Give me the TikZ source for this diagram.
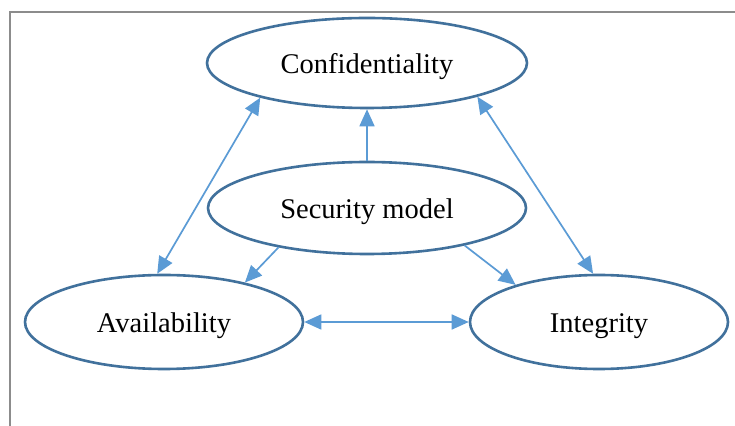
\documentclass[tikz,border=0pt]{standalone}
\usepackage{fontspec}
\setmainfont{Liberation Serif}
\usetikzlibrary{shapes.geometric,arrows.meta}
\definecolor{ringblue}{HTML}{41719C}
\definecolor{arrowblue}{HTML}{5B9BD5}
\definecolor{framegray}{HTML}{8C8C8C}
\tikzset{
  oval/.style={ellipse, draw=ringblue, line width=2.6pt, fill=white, inner sep=0pt,
    text height=28pt, text depth=6.2pt,
    font=\fontsize{28.5}{34}\selectfont},
  link/.style={draw=arrowblue, line width=1.7pt, -{Triangle[length=17pt,width=15pt]}},
  duallink/.style={draw=arrowblue, line width=1.7pt, {Triangle[length=17pt,width=15pt]}-{Triangle[length=17pt,width=15pt]}},
  frameline/.style={draw=framegray, line width=2pt}
}
\begin{document}
\begin{tikzpicture}[x=1pt,y=1pt]
\useasboundingbox (0,0) rectangle (735,425);
\fill[white] (0,0) rectangle (735,425);
\draw[frameline] (10,-2) -- (10,413) -- (737,413);
\node[oval, minimum width=320pt, minimum height=90pt] (conf) at (367,362) {Confidentiality};
\node[oval, minimum width=318pt, minimum height=92pt] (sec) at (367,217) {Security model};
\node[oval, minimum width=278pt, minimum height=94pt] (avail) at (164,103) {Availability};
\node[oval, minimum width=258pt, minimum height=94pt] (integ) at (599,103) {Integrity};
\draw[link] (sec.north) -- (conf.south);
\draw[link] (sec.204.7) -- (avail.26.3);
\draw[link] (sec.339.3) -- (integ.156);
\draw[duallink] (conf.198.4) -- (avail.98.1);
\draw[duallink] (conf.343.8) -- (integ.97.3);
\draw[duallink] (avail.east) -- (integ.west);
\end{tikzpicture}
\end{document}
